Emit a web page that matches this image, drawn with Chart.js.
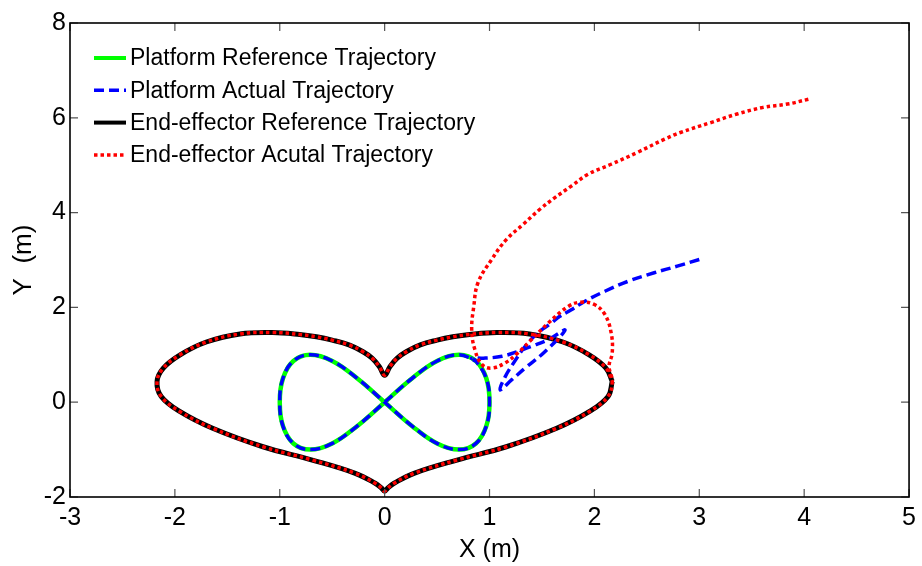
<!DOCTYPE html>
<html>
<head>
<meta charset="utf-8">
<script src="https://cdn.jsdelivr.net/npm/chart.js@4.4.1/dist/chart.umd.min.js"></script>
<style>
  html, body { margin: 0; padding: 0; background: #fff; }
  #wrap { width: 922px; height: 566px; }
</style>
</head>
<body>
<div id="wrap"><canvas id="grafico" width="922" height="566"></canvas></div>
<script>
// Trajetórias (metros)
const xTicks = [-3, -2, -1, 0, 1, 2, 3, 4, 5];
const yTicks = [-2, 0, 2, 4, 6, 8];

const nomes = [
  "Platform Reference Trajectory",
  "Platform Actual Trajectory",
  "End-effector Reference Trajectory",
  "End-effector Acutal Trajectory"
];

// Referência da plataforma (oito)
const platRefX = [0, 0.26, 0.5, 0.71, 0.87, 0.97, 1, 0.97, 0.87, 0.71, 0.5, 0.26, 0,
  -0.26, -0.5, -0.71, -0.87, -0.97, -1, -0.97, -0.87, -0.71, -0.5, -0.26, 0];
const platRefY = [0, 0.5, 0.87, 1, 0.87, 0.5, 0, -0.5, -0.87, -1, -0.87, -0.5, 0,
  0.5, 0.87, 1, 0.87, 0.5, 0, -0.5, -0.87, -1, -0.87, -0.5, 0];

// Trajetória real da plataforma
const platRealX = [3.00, 2.79, 2.57, 2.32, 2.10, 1.91, 1.78, 1.65, 1.59, 1.46, 1.34, 1.23, 1.15, 1.10,
  1.21, 1.34, 1.53, 1.72, 1.56, 1.40, 1.27, 1.12, 0.96, 0.83,
  0.87, 0.97, 1, 0.97, 0.87, 0.71, 0.5, 0.26, 0,
  -0.26, -0.5, -0.71, -0.87, -0.97, -1, -0.97, -0.87, -0.71, -0.5, -0.26, 0,
  0.26, 0.5, 0.71, 0.87];
const platRealY = [3.01, 2.87, 2.73, 2.55, 2.34, 2.13, 1.95, 1.78, 1.67, 1.46, 1.18, 0.83, 0.54, 0.26,
  0.47, 0.72, 1.07, 1.52, 1.32, 1.18, 1.07, 0.97, 0.93, 0.93,
  0.87, 0.5, 0, -0.5, -0.87, -1, -0.87, -0.5, 0,
  0.5, 0.87, 1, 0.87, 0.5, 0, -0.5, -0.87, -1, -0.87, -0.5, 0,
  0.5, 0.87, 1, 0.87];

// Referência do efetuador (coração)
const efRefX = [2.17, 2.13, 1.95, 1.64, 1.16, 0.69, 0.28, 0.09, 0.03, 0,
  -0.03, -0.09, -0.28, -0.69, -1.16, -1.64, -1.95, -2.13, -2.17, -2.11, -1.95, -1.70, -1.38, -1.07,
  -0.81, -0.65, -0.50, -0.34, -0.21, -0.12, -0.05, 0,
  0.05, 0.12, 0.21, 0.34, 0.50, 0.65, 0.81, 1.07, 1.38, 1.70, 1.95, 2.11, 2.17];
const efRefY = [0.44, 0.12, -0.20, -0.55, -0.94, -1.22, -1.50, -1.71, -1.81, -1.88,
  -1.81, -1.71, -1.50, -1.22, -0.94, -0.55, -0.20, 0.12, 0.44, 0.72, 1.00, 1.27, 1.44, 1.47,
  1.43, 1.38, 1.31, 1.21, 1.07, 0.93, 0.75, 0.57,
  0.75, 0.93, 1.07, 1.21, 1.31, 1.38, 1.43, 1.47, 1.44, 1.27, 1.00, 0.72, 0.44];

// Trajetória real do efetuador: aproximação e depois o coração
const efRealX = [4.04, 3.84, 3.61, 3.36, 3.11, 2.82, 2.67, 2.41, 2.16, 1.94, 1.78, 1.62, 1.48, 1.32,
  1.16, 1.02, 0.89, 0.85, 0.83, 0.86, 0.93, 1.02, 1.15, 1.27, 1.40, 1.56, 1.75, 1.87, 2.00, 2.10,
  2.16, 2.17, 2.14].concat(efRefX);
const efRealY = [6.39, 6.29, 6.22, 6.08, 5.90, 5.69, 5.55, 5.27, 5.02, 4.81, 4.56, 4.31, 4.07, 3.75,
  3.43, 3.01, 2.52, 2.02, 1.53, 1.11, 0.79, 0.72, 0.83, 1.04, 1.32, 1.67, 2.02, 2.11, 2.06, 1.85,
  1.46, 1.04, 0.76].concat(efRefY);

const pares = (xs, ys) => xs.map((x, i) => ({ x, y: ys[i] }));

const fonte = "'Liberation Sans', Arial, sans-serif";

// Moldura com marcas para dentro (estilo MATLAB)
const molduraPlugin = {
  id: "moldura",
  afterDatasetsDraw(chart) {
    const { ctx, chartArea: a, scales: { x, y } } = chart;
    const tam = 8;
    ctx.save();
    ctx.strokeStyle = "#555";
    ctx.lineWidth = 1.2;
    ctx.beginPath();
    xTicks.forEach(v => {
      const px = x.getPixelForValue(v);
      ctx.moveTo(px, a.bottom); ctx.lineTo(px, a.bottom - tam);
      ctx.moveTo(px, a.top); ctx.lineTo(px, a.top + tam);
    });
    yTicks.forEach(v => {
      const py = y.getPixelForValue(v);
      ctx.moveTo(a.left, py); ctx.lineTo(a.left + tam, py);
      ctx.moveTo(a.right, py); ctx.lineTo(a.right - tam, py);
    });
    ctx.stroke();
    ctx.strokeStyle = "#000";
    ctx.lineWidth = 1.6;
    ctx.strokeRect(a.left, a.top, a.right - a.left, a.bottom - a.top);
    ctx.restore();
  }
};

// Legenda dentro da área do gráfico, sem caixa
const legendaPlugin = {
  id: "legendaInterna",
  afterDraw(chart) {
    const { ctx, chartArea: a } = chart;
    ctx.save();
    ctx.font = "23px " + fonte;
    ctx.textBaseline = "middle";
    ctx.fillStyle = "#000";
    chart.data.datasets.forEach((ds, i) => {
      const yy = a.top + 35 + i * 32.3;
      ctx.strokeStyle = ds.borderColor;
      ctx.lineWidth = ds.legendaLargura;
      ctx.setLineDash(ds.borderDash || []);
      ctx.beginPath();
      ctx.moveTo(a.left + 24, yy);
      ctx.lineTo(a.left + 56, yy);
      ctx.stroke();
      ctx.setLineDash([]);
      ctx.fillText(ds.label, a.left + 60, yy + 1);
    });
    ctx.restore();
  }
};

new Chart(document.getElementById("grafico"), {
  type: "scatter",
  data: {
    datasets: [
      { label: nomes[0], data: pares(platRefX, platRefY), borderColor: "#00ff00", borderWidth: 4.5,
        legendaLargura: 4, order: 4 },
      { label: nomes[1], data: pares(platRealX, platRealY), borderColor: "#0000ff", borderWidth: 3.5,
        borderDash: [10, 5], legendaLargura: 3.5, order: 2 },
      { label: nomes[2], data: pares(efRefX, efRefY), borderColor: "#000000", borderWidth: 5,
        legendaLargura: 4, order: 3 },
      { label: nomes[3], data: pares(efRealX, efRealY), borderColor: "#ff0000", borderWidth: 3.5,
        borderDash: [3.5, 3], legendaLargura: 3.5, order: 1 }
    ].map(d => ({ ...d, showLine: true, pointRadius: 0, pointHoverRadius: 0, tension: 0.4, fill: false }))
  },
  options: {
    responsive: false,
    animation: false,
    layout: { padding: { left: 0, right: 9, top: 23, bottom: 0 } },
    plugins: { legend: { display: false }, tooltip: { enabled: false } },
    scales: {
      x: {
        type: "linear", min: -3, max: 5,
        afterBuildTicks: s => { s.ticks = xTicks.map(v => ({ value: v })); },
        afterFit: s => { s.height = 69; },
        grid: { display: false, drawTicks: false },
        border: { display: false },
        ticks: { color: "#000", padding: 6, font: { family: fonte, size: 25 } },
        title: { display: true, text: "X (m)", color: "#000", padding: { top: 0, bottom: 1 },
          font: { family: fonte, size: 25 } }
      },
      y: {
        type: "linear", min: -2, max: 8,
        afterBuildTicks: s => { s.ticks = yTicks.map(v => ({ value: v })); },
        afterFit: s => { s.width = 70; },
        grid: { display: false, drawTicks: false },
        border: { display: false },
        ticks: { color: "#000", padding: 4, font: { family: fonte, size: 25 } },
        title: { display: true, text: "Y  (m)", color: "#000", padding: { top: 8, bottom: 0 },
          font: { family: fonte, size: 26 } }
      }
    }
  },
  plugins: [molduraPlugin, legendaPlugin]
});
</script>
</body>
</html>
